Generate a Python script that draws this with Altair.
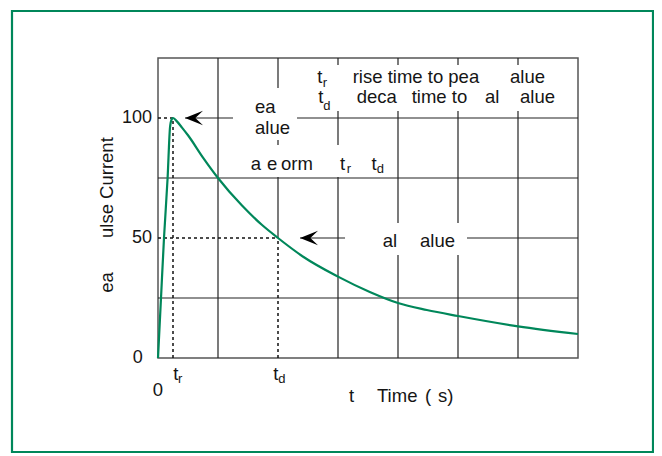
import altair as alt
import pandas as pd

# ---------------- data ----------------
# time in grid units (tr = 0.25, td = 2.0), current in % of peak
time_vals = [0, 0.05, 0.10, 0.16, 0.20, 0.225, 0.25, 0.30, 0.40, 0.50, 0.75, 1.0, 1.40,
             1.73, 2.0, 2.42, 3.0, 3.53, 4.0, 4.48, 5.0, 6.0, 7.0]
current_vals = [0, 25, 50, 75, 96, 99.3, 100, 99.0, 96.0, 92.8, 83.5, 75, 63.5,
                55.5, 50, 42.2, 33.9, 27.5, 22.9, 20, 17.5, 13.2, 10]

T_R = 0.25
T_D = 2.0
X_MAX = 7.0
Y_MAX = 125
grid_x = [1, 2, 3, 4, 5, 6]
grid_y = [25, 75]
tick_values = [0, 50, 100]
tick_labels = ["0", "50", "100"]

GREEN = "#00875a"
INK = "#151515"
FONT = "Liberation Sans"

xs = alt.Scale(domain=[0, X_MAX], nice=False, zero=False)
ys = alt.Scale(domain=[0, Y_MAX], nice=False, zero=False)

def X(f="x"):
    return alt.X(f"{f}:Q", scale=xs, axis=None)

def Y(f="y"):
    return alt.Y(f"{f}:Q", scale=ys, axis=None)

# arrow tips (data units)
peak_tip = 0.45
half_tip = 2.367
head_len_px = 18
head_half = head_len_px / 2 / 60.0  # half length of the arrow head in x units

# ---------------- solid grid / arrow lines ----------------
solid = []
for gx in grid_x:
    y0 = 50 if gx == T_D else 0
    solid.append(dict(x=gx, x2=gx, y=y0, y2=Y_MAX))
for gy in grid_y:
    solid.append(dict(x=0, x2=X_MAX, y=gy, y2=gy))
solid.append(dict(x=peak_tip, x2=X_MAX, y=100, y2=100))
solid.append(dict(x=half_tip, x2=X_MAX, y=50, y2=50))
solid_df = pd.DataFrame(solid)

dotted_df = pd.DataFrame([
    dict(x=T_R, x2=T_R, y=0, y2=100),
    dict(x=T_D, x2=T_D, y=0, y2=50),
    dict(x=0, x2=T_R, y=100, y2=100),
    dict(x=0, x2=T_D, y=50, y2=50),
])

# white label boxes that hide the grid behind the annotations
boxes_df = pd.DataFrame([
    dict(x=1.25, x2=2.317, y=90.8, y2=112.5),
    dict(x=2.50, x2=6.95, y=102.9, y2=122.1),
    dict(x=1.367, x2=3.95, y=75.4, y2=88.75),
    dict(x=3.117, x2=5.15, y=42.9, y2=56.25),
])

curve_df = pd.DataFrame({"x": time_vals, "y": current_vals})

heads_df = pd.DataFrame([
    dict(x=peak_tip + head_half, y=100),
    dict(x=half_tip + head_half, y=50),
])

main_text = pd.DataFrame([
    # peak value label
    ("ea", 1.617, 102.2), ("alue", 1.617, 93.3),
    # waveform label
    ("a", 1.545, 78.3), ("e", 1.817, 78.3), ("orm", 2.05, 78.3),
    ("t", 3.033, 78.3), ("t", 3.56, 78.3),
    # legend line 1
    ("t", 2.655, 114.4), ("rise time to pea", 3.245, 114.4), ("alue", 5.867, 114.4),
    # legend line 2
    ("t", 2.672, 106.1), ("deca", 3.312, 106.1), ("time to", 4.228, 106.1),
    ("al", 5.45, 106.1), ("alue", 6.033, 106.1),
    # half value label
    ("al", 3.745, 46.4), ("alue", 4.367, 46.4),
    # x axis
    ("0", -0.088, -16.0), ("t", 0.255, -9.17), ("t", 1.922, -9.17),
    ("t", 3.183, -18.2), ("Time", 3.65, -18.2), ("(", 4.45, -18.2), ("s)", 4.667, -18.2),
], columns=["text", "x", "y"])

sub_text = pd.DataFrame([
    ("r", 3.145, 76.9), ("d", 3.645, 76.9),
    ("r", 2.745, 112.9), ("d", 2.755, 103.5),
    ("r", 0.333, -10.6), ("d", 2.005, -10.6),
], columns=["text", "x", "y"])

rot_text = pd.DataFrame([
    ("ulse Current", -0.742, 71.0), ("ea", -0.742, 31.5),
], columns=["text", "x", "y"])

ticks_df = pd.DataFrame({"text": tick_labels, "y": tick_values,
                         "x": [-0.255, -0.1, -0.1]})

# ---------------- layers ----------------
frame = alt.Chart(pd.DataFrame({"a": [0]})).mark_rect(
    fillOpacity=0, stroke=GREEN, strokeWidth=2.2
).encode(x=alt.value(-146), x2=alt.value(495), y=alt.value(-47), y2=alt.value(394))

solid_l = alt.Chart(solid_df).mark_rule(color="#222", strokeWidth=1.2).encode(
    x=X(), x2="x2:Q", y=Y(), y2="y2:Q")

boxes_l = alt.Chart(boxes_df).mark_rect(fill="white", strokeWidth=0).encode(
    x=X(), x2="x2:Q", y=Y(), y2="y2:Q")

dotted_l = alt.Chart(dotted_df).mark_rule(color="#111", strokeWidth=1.5, strokeDash=[3, 3]).encode(
    x=X(), x2="x2:Q", y=Y(), y2="y2:Q")

curve_l = alt.Chart(curve_df).mark_line(color=GREEN, strokeWidth=2.2, interpolate="monotone").encode(
    x=X(), y=Y())

heads_l = alt.Chart(heads_df).mark_point(
    shape="M-1,0L1,-0.8L0.15,0L1,0.8Z", filled=True, color="black", opacity=1,
    size=head_len_px * head_len_px
).encode(x=X(), y=Y())

main_l = alt.Chart(main_text).mark_text(
    font=FONT, fontSize=18.5, align="left", baseline="alphabetic", color=INK
).encode(x=X(), y=Y(), text="text:N")

sub_l = alt.Chart(sub_text).mark_text(
    font=FONT, fontSize=13, align="left", baseline="alphabetic", color=INK
).encode(x=X(), y=Y(), text="text:N")

rot_l = alt.Chart(rot_text).mark_text(
    font=FONT, fontSize=18.5, align="center", baseline="alphabetic", angle=270, color=INK
).encode(x=X(), y=Y(), text="text:N")

ticks_l = alt.Chart(ticks_df).mark_text(
    font=FONT, fontSize=18, align="right", baseline="middle", color=INK
).encode(x=X(), y=Y(), text="text:N")

chart = alt.layer(
    frame, solid_l, boxes_l, dotted_l, curve_l, heads_l, main_l, sub_l, rot_l, ticks_l
).properties(
    width=420, height=300,
    padding={"left": 150, "top": 50, "right": 76, "bottom": 96},
    autosize=alt.AutoSizeParams(type="none"),
).configure_view(
    stroke="#555", strokeWidth=1.5
)

chart.save("out.html", embed_options={"renderer": "svg", "actions": False})
